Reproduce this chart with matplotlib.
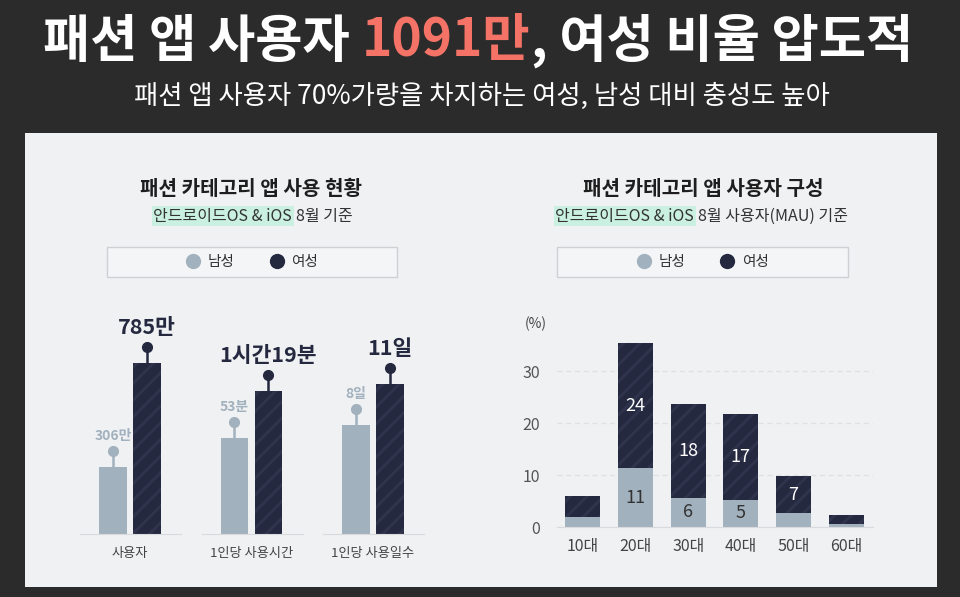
import matplotlib
matplotlib.use("Agg")
import matplotlib.pyplot as plt
from matplotlib.patches import Rectangle
from matplotlib.lines import Line2D

plt.rcParams['font.family'] = ['Noto Sans CJK KR', 'DejaVu Sans']
plt.rcParams['hatch.linewidth'] = 2.2

# --- datos ---
grupos = ['사용자', '1인당 사용시간', '1인당 사용일수']
hombres = [306, 53, 8]        # 만명, 분, 일
mujeres = [785, 79, 11]
unidades = ['만', '분', '일']

edades = ['10대', '20대', '30대', '40대', '50대', '60대']
edad_hombres = [2.0, 11.3, 5.6, 5.2, 2.7, 0.5]
edad_mujeres = [4.0, 24.1, 18.1, 16.6, 7.1, 1.8]
yticks_der = [0, 10, 20, 30]

# --- estilos ---
C_FONDO = '#2b2b2b'
C_PANEL = '#f0f1f3'
C_HOM = '#a1b1bd'
C_MUJ = '#252940'
C_RAYA = '#2f334b'
C_ROJO = '#f47366'
C_MENTA = '#c9f0e1'
C_LINEA = '#d9dadd'

W, H = 960, 597
fig = plt.figure(figsize=(9.6, 5.97), dpi=100, facecolor=C_FONDO)


def fx(x):
    return x / W


def fy(y):
    return 1 - y / H


def etiqueta(v, u):
    if u == '분' and v >= 60:
        return f"{v // 60}시간{v % 60}분"
    return f"{v}{u}"


# panel claro
fig.patches.append(Rectangle((fx(25), fy(587)), fx(937) - fx(25), fy(133) - fy(587),
                             transform=fig.transFigure, facecolor=C_PANEL, edgecolor='none', zorder=-2))

r = fig.canvas.get_renderer()


def linea_color(partes, y, size, weight, cx, gaps):
    txts = [fig.text(0, fy(y), s, color=c, fontsize=size, weight=weight, va='center')
            for s, c in partes]
    anchos = [t.get_window_extent(r).width for t in txts]
    total = sum(anchos) + sum(gaps)
    x = cx - total / 2
    for i, (t, w) in enumerate(zip(txts, anchos)):
        t.set_x(fx(x))
        x += w + (gaps[i] if i < len(gaps) else 0)


# encabezado
linea_color([('패션 앱 사용자', 'white'), ('1091만', C_ROJO), (', 여성 비율 압도적', 'white')],
            41, 37, 'bold', 478, [12, 0])
fig.text(fx(482), fy(96), '패션 앱 사용자 70%가량을 차지하는 여성, 남성 대비 충성도 높아',
         color='white', fontsize=19, ha='center', va='center')

# titulos de los paneles
for cx, tit, resto, xh in [(251, '패션 카테고리 앱 사용 현황', '8월 기준', 292),
                           (703, '패션 카테고리 앱 사용자 구성', '8월 사용자(MAU) 기준', 694)]:
    fig.text(fx(cx), fy(189), tit, fontsize=14.5, weight='bold', color='#1e1e1e',
             ha='center', va='center')
    fig.text(fx(xh), fy(216), '안드로이드OS & iOS', fontsize=11.5, color='#333333',
             ha='right', va='center',
             bbox=dict(boxstyle='square,pad=0.1', facecolor=C_MENTA, edgecolor='none'))
    fig.text(fx(xh + 4), fy(216), resto, fontsize=11.5, color='#333333',
             ha='left', va='center')

# leyendas
for x0, x1 in [(107, 397), (557, 848)]:
    fig.patches.append(Rectangle((fx(x0), fy(277)), fx(x1) - fx(x0), fy(247) - fy(277),
                                 transform=fig.transFigure, facecolor='#f4f5f6',
                                 edgecolor='#cfd0d3', linewidth=1, zorder=-1))
    handles = [Line2D([], [], marker='o', linestyle='none', markersize=11,
                      markerfacecolor=c, markeredgecolor='none') for c in (C_HOM, C_MUJ)]
    leg = fig.legend(handles, ['남성', '여성'], loc='center',
                     bbox_to_anchor=(fx((x0 + x1) / 2), fy(262)), ncol=2, frameon=False,
                     fontsize=10.5, handletextpad=0.5, columnspacing=2.4, handlelength=1)
    for t in leg.get_texts():
        t.set_color('#333333')

# --- grafico izquierdo: tres ejes con escala propia ---
ymax_izq = [1074, 129.3, 17.2]
alto_px = 234
for g in range(3):
    left = 80 + 121.5 * g
    ax = fig.add_axes([fx(left), fy(534), 101 / W, alto_px / H])
    ax.set_facecolor('none')
    ax.set_xlim(-0.97, 2.0)
    ax.set_ylim(0, ymax_izq[g])
    vals = [hombres[g], mujeres[g]]
    ax.bar([0], [vals[0]], width=0.82, color=C_HOM, linewidth=0)
    ax.bar([1], [vals[1]], width=0.82, color=C_MUJ, edgecolor=C_RAYA, hatch='//', linewidth=0)
    px = ymax_izq[g] / alto_px
    for i, (v, c) in enumerate(zip(vals, [C_HOM, C_MUJ])):
        tope = v + 16 * px
        ax.plot([i, i], [v, tope], color=c, linewidth=1.8, solid_capstyle='butt', clip_on=False)
        ax.plot([i], [tope], 'o', color=c, markersize=7, clip_on=False)
        if i == 0:
            ax.annotate(etiqueta(v, unidades[g]), (i, tope), xytext=(0, 11),
                        textcoords='offset points', ha='center', va='center',
                        fontsize=10, weight='bold', color=C_HOM)
        else:
            ax.annotate(etiqueta(v, unidades[g]), (i, tope), xytext=(0, 14),
                        textcoords='offset points', ha='center', va='center',
                        fontsize=15.5, weight='bold', color=C_MUJ, annotation_clip=False)
    for s in ['top', 'right', 'left']:
        ax.spines[s].set_visible(False)
    ax.spines['bottom'].set_color(C_LINEA)
    ax.set_yticks([])
    ax.set_xticks([0.5], [grupos[g]])
    ax.tick_params(axis='x', length=0, pad=9, labelsize=9.5, labelcolor='#444444')

# --- grafico derecho: barras apiladas ---
ax2 = fig.add_axes([fx(557), fy(527), 316 / W, 197.6 / H])
ax2.set_facecolor('none')
xs = list(range(len(edades)))
ax2.bar(xs, edad_hombres, width=0.665, color=C_HOM, linewidth=0, zorder=2)
ax2.bar(xs, edad_mujeres, width=0.665, bottom=edad_hombres, color=C_MUJ,
        edgecolor=C_RAYA, hatch='//', linewidth=0, zorder=2)
for x, h, m in zip(xs, edad_hombres, edad_mujeres):
    if h >= 5:
        ax2.text(x, h / 2, f"{round(h)}", ha='center', va='center', fontsize=13,
                 color='#333333', zorder=3)
    if m >= 5:
        ax2.text(x, h + m / 2, f"{round(m)}", ha='center', va='center', fontsize=13,
                 color='white', zorder=3)
ax2.set_xlim(-0.494, 5.513)
ax2.set_ylim(0, 38)
ax2.set_yticks(yticks_der)
ax2.set_xticks(xs, edades)
ax2.yaxis.grid(True, color='#dfe0e3', linestyle=(0, (4, 3)), linewidth=0.9)
ax2.set_axisbelow(True)
for s in ['top', 'right', 'left']:
    ax2.spines[s].set_visible(False)
ax2.spines['bottom'].set_color(C_LINEA)
ax2.tick_params(axis='y', length=0, pad=12, labelsize=11.5, labelcolor='#555555')
ax2.tick_params(axis='x', length=0, pad=8, labelsize=11.5, labelcolor='#444444')
fig.text(fx(536), fy(324), '(%)', fontsize=10, color='#444444', ha='center', va='center')

fig.savefig('out.png', dpi=100, facecolor=C_FONDO)
